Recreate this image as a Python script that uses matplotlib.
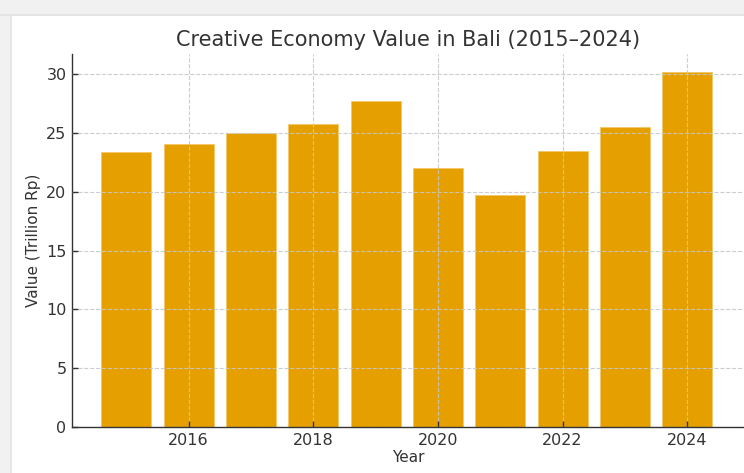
import matplotlib
matplotlib.use("Agg")
import matplotlib.pyplot as plt
from matplotlib.patches import Rectangle

# data
years = [2015, 2016, 2017, 2018, 2019, 2020, 2021, 2022, 2023, 2024]
values = [23.4, 24.1, 25.0, 25.8, 27.7, 22.0, 19.7, 23.5, 25.5, 30.2]
x_ticks = [2016, 2018, 2020, 2022, 2024]
y_ticks = [0, 5, 10, 15, 20, 25, 30]

W, H = 744, 473
fig = plt.figure(figsize=(W / 100, H / 100), dpi=100, facecolor="#f1f1f1")

# screenshot frame: gray margin top/left, white panel (kept behind the axes)
fig.patches.append(Rectangle((10 / W, 0), 2 / W, (H - 14) / H, transform=fig.transFigure,
                             facecolor="#e6e6e6", edgecolor="none", zorder=-10))
fig.patches.append(Rectangle((0, (H - 16) / H), 1, 2 / H, transform=fig.transFigure,
                             facecolor="#e4e4e4", edgecolor="none", zorder=-10))
fig.patches.append(Rectangle((12 / W, 0), 1, (H - 16) / H, transform=fig.transFigure,
                             facecolor="white", edgecolor="none", zorder=-9))

ax = fig.add_axes([72 / W, (H - 427) / H, (W - 72) / W, (427 - 54) / H])
ax.set_facecolor("none")

ax.bar(years, values, width=0.8, color="#e5a000", edgecolor="#f2c766", linewidth=0.6)

ax.set_xlim(2014.13, 2024.91)
ax.set_ylim(0, 31.71)
ax.set_xticks(x_ticks)
ax.set_yticks(y_ticks)

ax.set_axisbelow(False)
ax.grid(True, linestyle="--", color="#c8c8c8", linewidth=0.8, alpha=0.9)

for side in ["top", "right"]:
    ax.spines[side].set_visible(False)
for side in ["left", "bottom"]:
    ax.spines[side].set_color("#333333")
    ax.spines[side].set_linewidth(1.0)

ax.tick_params(direction="in", length=4, width=1, colors="#333333", labelsize=11.5, pad=4)

ax.set_title("Creative Economy Value in Bali (2015\u20132024)", fontsize=15, color="#333333", pad=6)
ax.set_xlabel("Year", fontsize=11, color="#333333", labelpad=2)
ax.set_ylabel("Value (Trillion Rp)", fontsize=11, color="#333333", labelpad=4)

fig.savefig("out.png", dpi=100, facecolor=fig.get_facecolor())
